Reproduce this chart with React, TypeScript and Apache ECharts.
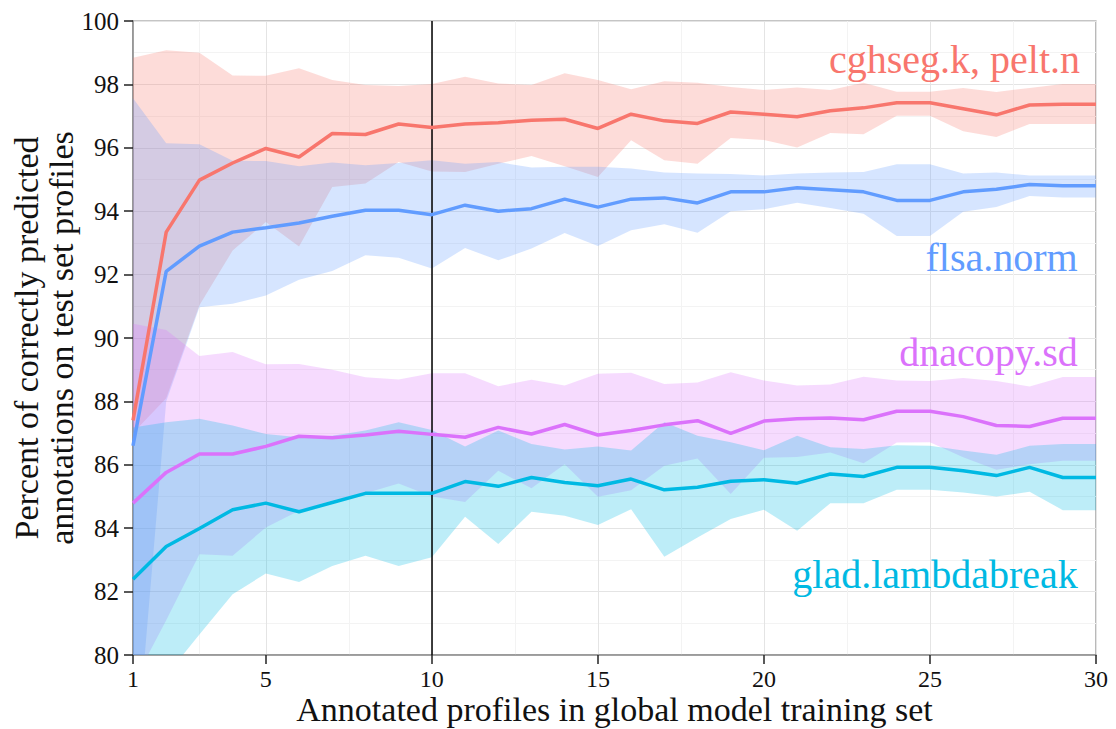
import React, { useEffect, useRef } from "react";
import * as echarts from "echarts";

const xValues = [1, 2, 3, 4, 5, 6, 7, 8, 9, 10, 11, 12, 13, 14, 15, 16, 17, 18, 19, 20, 21, 22, 23, 24, 25, 26, 27, 28, 29, 30];

const cghsegMean = [87.4, 93.34, 94.98, 95.52, 95.98, 95.71, 96.45, 96.42, 96.75, 96.64, 96.75, 96.79, 96.87, 96.9, 96.61, 97.06, 96.85, 96.77, 97.13, 97.06, 96.98, 97.17, 97.26, 97.42, 97.42, 97.23, 97.04, 97.35, 97.37, 97.37];
const cghsegUpper = [98.84, 99.08, 99.0, 98.28, 98.27, 98.51, 98.14, 97.98, 97.95, 98.01, 98.24, 98.03, 97.98, 98.35, 98.14, 97.85, 98.1, 98.05, 97.92, 97.82, 97.9, 97.82, 98.05, 97.77, 97.77, 97.89, 97.76, 97.89, 98.01, 98.01];
const cghsegLower = [87.0, 88.1, 91.03, 92.76, 93.66, 92.89, 94.76, 94.87, 95.55, 95.25, 95.24, 95.5, 95.74, 95.42, 95.08, 96.24, 95.61, 95.5, 96.31, 96.25, 96.01, 96.47, 96.43, 97.01, 97.01, 96.52, 96.34, 96.75, 96.75, 96.75];

const flsaMean = [86.6, 92.1, 92.9, 93.34, 93.48, 93.63, 93.84, 94.03, 94.03, 93.89, 94.19, 94.0, 94.08, 94.38, 94.13, 94.38, 94.42, 94.26, 94.61, 94.61, 94.74, 94.68, 94.61, 94.34, 94.34, 94.61, 94.69, 94.84, 94.8, 94.8];
const flsaUpper = [97.56, 96.14, 96.11, 95.59, 95.58, 95.42, 95.54, 95.45, 95.52, 95.61, 95.5, 95.55, 95.38, 95.4, 95.4, 95.35, 95.22, 95.19, 95.17, 95.13, 95.19, 95.22, 95.24, 95.48, 95.48, 95.19, 95.22, 95.13, 95.13, 95.13];
const flsaLower = [75.6, 88.0, 90.97, 91.08, 91.34, 91.84, 92.11, 92.61, 92.53, 92.19, 92.84, 92.45, 92.82, 93.31, 92.9, 93.4, 93.59, 93.32, 94.0, 94.06, 94.27, 94.1, 93.92, 93.22, 93.22, 93.98, 94.13, 94.48, 94.43, 94.43];

const dnacopyMean = [84.79, 85.76, 86.34, 86.34, 86.58, 86.9, 86.85, 86.94, 87.06, 86.96, 86.87, 87.18, 86.97, 87.27, 86.94, 87.08, 87.26, 87.39, 86.99, 87.38, 87.45, 87.48, 87.42, 87.69, 87.69, 87.52, 87.24, 87.21, 87.47, 87.47];
const dnacopyUpper = [90.45, 90.25, 89.43, 89.56, 89.17, 89.18, 89.0, 88.76, 88.69, 88.89, 88.89, 88.48, 88.68, 88.5, 88.87, 88.9, 88.55, 88.6, 88.92, 88.66, 88.5, 88.53, 88.78, 88.66, 88.64, 88.74, 88.64, 88.47, 88.77, 88.77];
const dnacopyLower = [79.1, 81.1, 83.18, 83.13, 84.02, 84.55, 84.87, 85.1, 85.41, 85.0, 84.83, 85.81, 85.26, 86.02, 84.99, 85.2, 85.97, 86.2, 85.08, 86.22, 86.25, 86.39, 86.05, 86.7, 86.71, 86.24, 85.84, 86.02, 86.13, 86.13];

const gladMean = [82.39, 83.42, 83.99, 84.58, 84.79, 84.52, 84.81, 85.1, 85.1, 85.1, 85.47, 85.32, 85.6, 85.44, 85.34, 85.55, 85.21, 85.29, 85.48, 85.53, 85.42, 85.71, 85.63, 85.92, 85.92, 85.81, 85.66, 85.92, 85.6, 85.6];
const gladUpper = [87.18, 87.34, 87.45, 87.24, 86.97, 86.87, 86.92, 87.08, 87.34, 87.1, 86.58, 87.08, 86.66, 86.48, 86.58, 86.45, 87.34, 86.92, 86.71, 86.46, 86.92, 86.55, 86.5, 86.62, 86.6, 86.45, 86.32, 86.6, 86.66, 86.66];
const gladLower = [77.0, 79.35, 80.65, 81.92, 82.57, 82.3, 82.81, 83.13, 82.81, 83.08, 84.36, 83.5, 84.52, 84.39, 84.1, 84.6, 83.1, 83.71, 84.29, 84.58, 83.92, 84.79, 84.79, 85.21, 85.21, 85.13, 85.0, 85.15, 84.57, 84.57];

const xTickValues = [1, 5, 10, 15, 20, 25, 30];
const xMinorGrid = [3, 7.5, 12.5, 17.5, 22.5, 27.5];
const vlineX = 10;

const methodNames = ["cghseg.k, pelt.n", "flsa.norm", "dnacopy.sd", "glad.lambdabreak"];
const methodColors = ["#F8766D", "#619CFF", "#DB72FB", "#00B9E3"];
const labelX = [29.52, 29.45, 29.45, 29.45];
const labelY = [98.8, 92.54, 89.54, 82.53];

const FONT = "Liberation Serif";

export default function App() {
  const ref = useRef<HTMLDivElement>(null);
  useEffect(() => {
    if (!ref.current) return;
    const chart = echarts.init(ref.current, null, { renderer: "svg" });
    const means = [cghsegMean, flsaMean, dnacopyMean, gladMean];
    const uppers = [cghsegUpper, flsaUpper, dnacopyUpper, gladUpper];
    const lowers = [cghsegLower, flsaLower, dnacopyLower, gladLower];

    const series: any[] = [];
    methodNames.forEach((name, k) => {
      series.push({
        name: name + " band",
        type: "custom",
        clip: true,
        silent: true,
        z: 1,
        data: [[xValues[0], uppers[k][0]]],
        renderItem: (params: any, api: any) => {
          const pts: number[][] = [];
          for (let i = 0; i < xValues.length; i++) pts.push(api.coord([xValues[i], uppers[k][i]]));
          for (let i = xValues.length - 1; i >= 0; i--) pts.push(api.coord([xValues[i], lowers[k][i]]));
          return {
            type: "polygon",
            shape: { points: pts },
            style: { fill: methodColors[k], opacity: 0.26 },
          };
        },
      });
    });
    methodNames.forEach((name, k) => {
      const s: any = {
        name,
        type: "line",
        data: xValues.map((x, i) => [x, means[k][i]]),
        symbol: "none",
        lineStyle: { color: methodColors[k], width: 3.5 },
        z: 3,
      };
      if (k === 0) {
        s.markLine = {
          silent: true,
          symbol: ["none", "none"],
          label: { show: false },
          lineStyle: { color: "#000", width: 1.5, type: "solid" },
          data: [{ xAxis: vlineX }],
          z: 2,
        };
      }
      series.push(s);
    });

    chart.setOption({
      animation: false,
      grid: {
        left: 133,
        right: 20,
        top: 21,
        bottom: 74,
        outerBoundsMode: "none",
        containLabel: false,
        show: true,
        borderColor: "#8c8c8c",
        borderWidth: 1.2,
      },
      xAxis: [
        {
          type: "value",
          min: 1,
          max: 30,
          name: "Annotated profiles in global model training set",
          nameLocation: "middle",
          nameGap: 37,
          nameMoveOverlap: false,
          nameTextStyle: { fontFamily: FONT, fontSize: 34, color: "#111" },
          axisLine: { show: true, lineStyle: { color: "#8c8c8c", width: 1.5 } },
          axisTick: { show: true, length: 9, customValues: xTickValues, lineStyle: { color: "#222", width: 1.5 } },
          axisLabel: { customValues: xTickValues, fontFamily: FONT, fontSize: 24, color: "#111", margin: 12 },
          splitLine: { show: true, lineStyle: { color: "#e4e4e4", width: 1 } },
        },
        {
          type: "value",
          min: 1,
          max: 30,
          position: "bottom",
          axisLine: { show: false },
          axisTick: { show: false, customValues: xMinorGrid },
          axisLabel: { show: false, customValues: xMinorGrid },
          splitLine: { show: true, lineStyle: { color: "#f3f3f3", width: 1 } },
        },
      ],
      yAxis: {
        type: "value",
        min: 80,
        max: 100,
        interval: 2,
        name: "Percent of correctly predicted\nannotations on test set profiles",
        nameLocation: "middle",
        nameGap: 54,
        nameMoveOverlap: false,
        nameTextStyle: { fontFamily: FONT, fontSize: 34, color: "#111", lineHeight: 35 },
        axisLine: { show: true, lineStyle: { color: "#8c8c8c", width: 1.5 } },
        axisTick: { show: true, length: 9, lineStyle: { color: "#222", width: 1.5 } },
        axisLabel: { fontFamily: FONT, fontSize: 25, color: "#111", margin: 14 },
        splitLine: { show: true, lineStyle: { color: "#e4e4e4", width: 1 } },
        minorTick: { show: false, splitNumber: 2 },
        minorSplitLine: { show: true, lineStyle: { color: "#f3f3f3", width: 1 } },
      },
      series,
    });

    const graphics = methodNames.map((name, k) => {
      const p = chart.convertToPixel({ gridIndex: 0 }, [labelX[k], labelY[k]]) as number[];
      return {
        type: "text",
        x: p[0],
        y: p[1],
        z: 10,
        style: {
          text: name,
          fill: methodColors[k],
          fontFamily: FONT,
          fontSize: 40,
          align: "right",
          verticalAlign: "middle",
        },
      };
    });
    chart.setOption({ graphic: graphics });

    return () => chart.dispose();
  }, []);
  return <div ref={ref} style={{ position: "absolute", left: 0, top: 0, width: 1116, height: 729 }} />;
}
